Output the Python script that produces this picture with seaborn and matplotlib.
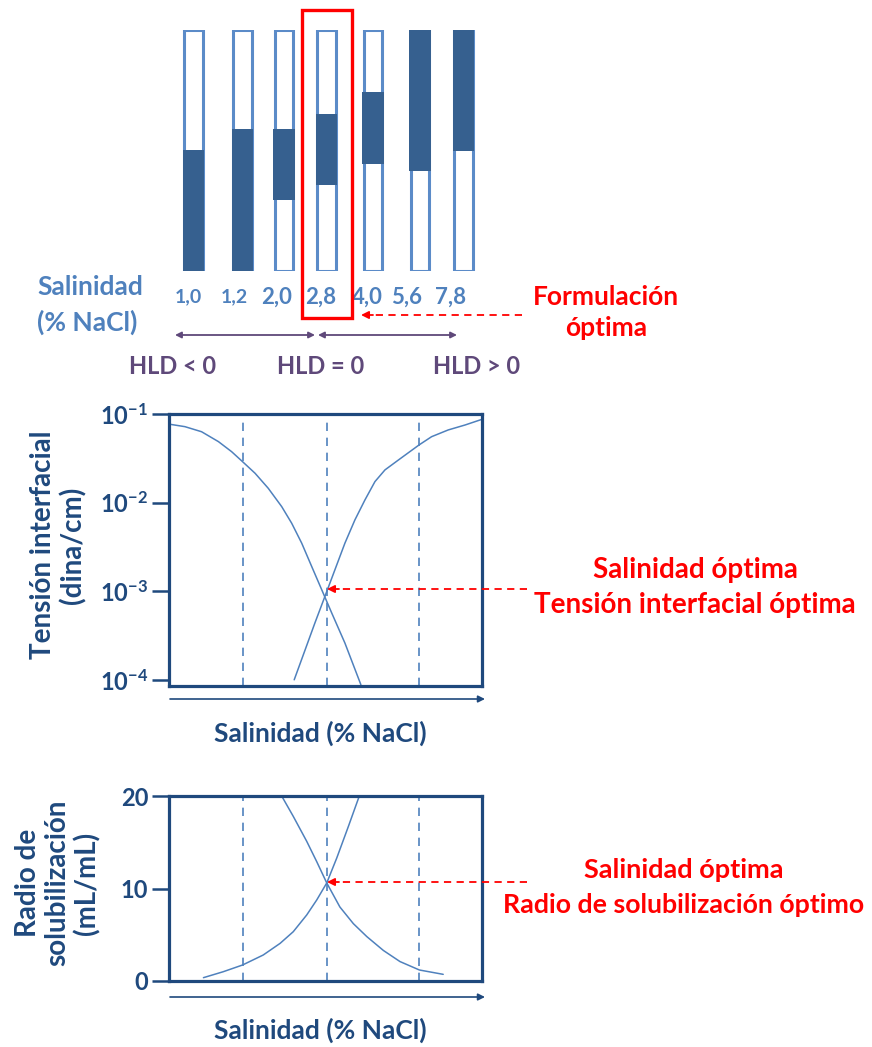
import numpy as np
import matplotlib
matplotlib.use("Agg")
import matplotlib.pyplot as plt
import seaborn as sns
from matplotlib.patches import Rectangle
from matplotlib.ticker import FixedLocator, FixedFormatter, NullLocator

sns.set_theme(style="white")
plt.rcParams["font.family"] = ["Lato", "DejaVu Sans"]
plt.rcParams["mathtext.fontset"] = "custom"
plt.rcParams["mathtext.rm"] = "Lato"
plt.rcParams["mathtext.bf"] = "Lato:bold"

# ---------------- data ----------------
tube_labels = ["1,0", "1,2", "2,0", "2,8", "4,0", "5,6", "7,8"]
phase_bottom = [0.0, 0.0, 0.291, 0.354, 0.443, 0.411, 0.497]   # fraction of tube height
phase_top = [0.500, 0.586, 0.586, 0.648, 0.741, 1.0, 1.0]
optimal_index = 3
hld_labels = ["HLD < 0", "HLD = 0", "HLD > 0"]

# interfacial tension: log10(dina/cm) vs salinity position (0-100 along axis)
ift_dec_x = [0.3, 5.1, 10.4, 15.8, 20.0, 23.5, 27.5, 31.7, 36.0, 39.2, 42.4, 45.6, 48.8, 52.0, 56.2, 61.3]
ift_dec_log = [-1.116, -1.143, -1.200, -1.312, -1.425, -1.538, -1.669, -1.838, -2.045, -2.233,
               -2.458, -2.722, -2.984, -3.247, -3.585, -4.055]
ift_inc_x = [40.0, 43.5, 46.6, 49.8, 53.0, 56.2, 59.4, 62.6, 65.8, 69.0, 73.3, 79.9, 83.9, 89.2, 94.6, 100.0]
ift_inc_log = [-4.000, -3.661, -3.360, -3.060, -2.759, -2.458, -2.195, -1.970, -1.763, -1.631,
               -1.519, -1.349, -1.256, -1.180, -1.124, -1.060]
ift_ticks = [1e-4, 1e-3, 1e-2, 1e-1]
ift_ticklabels = [r"$\mathbf{10^{-4}}$", r"$\mathbf{10^{-3}}$", r"$\mathbf{10^{-2}}$", r"$\mathbf{10^{-1}}$"]

# solubilization ratio (mL/mL)
sr_dec_x = [36.0, 39.7, 44.0, 47.2, 50.4, 54.6, 58.9, 63.2, 68.5, 73.8, 80.0, 87.6]
sr_dec_y = [20.0, 17.8, 15.1, 12.9, 10.6, 8.0, 6.2, 4.8, 3.3, 2.1, 1.19, 0.72]
sr_inc_x = [11.0, 17.3, 23.5, 30.1, 35.5, 39.7, 44.0, 47.2, 50.4, 53.6, 57.3, 60.8]
sr_inc_y = [0.36, 1.0, 1.73, 2.81, 4.07, 5.33, 7.14, 8.76, 10.6, 13.3, 16.7, 20.0]
sr_ticks = [0, 10, 20]

ref_lines = [23.5, 50.4, 80.0]

# ---------------- style ----------------
W, H = 872, 1047
DARK = "#1F497D"
CURVE = "#4F81BD"
TUBE_EDGE = "#5B8BC8"
TUBE_FILL = "#36608F"
LIGHT_TXT = "#4F81BD"
PURPLE = "#5F497A"
RED = "#FF0000"


def rect(l, t, r, b):
    return [l / W, 1 - b / H, (r - l) / W, (b - t) / H]


fig = plt.figure(figsize=(W / 100, H / 100), dpi=100)

# overlay axes in pixel coordinates for annotation decorations
ov = fig.add_axes([0, 0, 1, 1], zorder=5)
ov.set_xlim(0, W)
ov.set_ylim(H, 0)
ov.axis("off")
ov.patch.set_alpha(0)

# ---------------- tubes ----------------
ax_t = fig.add_axes(rect(169, 29.5, 482, 270.5))
ax_t.set_xlim(0, 100)
ax_t.set_ylim(0, 1)
ax_t.axis("off")
tube_pos = [7.8, 23.5, 36.7, 50.3, 65.2, 80.2, 94.1]
label_pos = [6.1, 20.8, 34.5, 48.6, 63.3, 76.0, 89.8]
label_size = [14, 14, 16, 16, 16, 16, 16]
ax_t.bar(tube_pos, [1] * len(tube_pos), width=5.95, bottom=0, color="white",
         edgecolor=TUBE_EDGE, linewidth=2.2, zorder=1)
ax_t.bar(tube_pos, np.array(phase_top) - np.array(phase_bottom), width=6.9,
         bottom=phase_bottom, color=TUBE_FILL, linewidth=0, zorder=2)
for lx, lab, fs in zip(label_pos, tube_labels, label_size):
    ax_t.text(lx, -0.11, lab, ha="center", va="center", fontsize=fs,
              fontweight="bold", color=LIGHT_TXT, clip_on=False)

# highlight optimal tube
ov.add_patch(Rectangle((302, 10), 50, 308, fill=False, edgecolor=RED, linewidth=2.4))

ov.text(37, 287, "Salinidad", ha="left", va="center", fontsize=19, fontweight="bold", color=LIGHT_TXT)
ov.text(37, 322, "(% NaCl)", ha="left", va="center", fontsize=19, fontweight="bold", color=LIGHT_TXT)

# HLD arrows
arr = dict(arrowstyle="<|-|>", color=PURPLE, lw=1.3, mutation_scale=9, shrinkA=0, shrinkB=0)
ov.annotate("", xy=(175, 335), xytext=(315, 335), arrowprops=arr)
ov.annotate("", xy=(318, 335), xytext=(457, 335), arrowprops=arr)
for cx, lab in zip([173, 321, 477], hld_labels):
    ov.text(cx, 367, lab, ha="center", va="center", fontsize=17, fontweight="bold", color=PURPLE)


def red_arrow(x0, x1, y):
    ov.plot([x0, x1 + 10], [y, y], color=RED, lw=1.3, ls=(0, (4, 3)))
    ov.annotate("", xy=(x1, y), xytext=(x1 + 12, y),
                arrowprops=dict(arrowstyle="-|>", color=RED, lw=1.3, mutation_scale=11,
                                shrinkA=0, shrinkB=0))


red_arrow(522, 361, 315)
ov.text(606, 297, "Formulación", ha="center", va="center", fontsize=19, fontweight="bold", color=RED)
ov.text(606, 328, "óptima", ha="center", va="center", fontsize=19, fontweight="bold", color=RED)


def style_axes(ax):
    for s in ax.spines.values():
        s.set_color(DARK)
        s.set_linewidth(2.3)
    ax.set_xlim(0, 100)
    ax.set_xticks([])
    ax.tick_params(axis="y", direction="out", length=12, width=1.8, color=DARK,
                   pad=3, labelsize=17, labelcolor=DARK, left=True)
    for xv in ref_lines:
        ax.axvline(xv, color=CURVE, lw=1.2, ls=(0, (5, 4)), zorder=1)


# ---------------- interfacial tension ----------------
ax1 = fig.add_axes(rect(169, 414, 482, 686))
ax1.set_yscale("log")
ax1.set_ylim(10 ** -4.07, 10 ** -1)
ax1.yaxis.set_major_locator(FixedLocator(ift_ticks))
ax1.yaxis.set_major_formatter(FixedFormatter(ift_ticklabels))
ax1.yaxis.set_minor_locator(NullLocator())
style_axes(ax1)
sns.lineplot(x=ift_dec_x, y=10 ** np.array(ift_dec_log), ax=ax1, color=CURVE, lw=1.1,
             sort=False, estimator=None)
sns.lineplot(x=ift_inc_x, y=10 ** np.array(ift_inc_log), ax=ax1, color=CURVE, lw=1.1,
             sort=False, estimator=None)
ax1.set_xlabel("")
ax1.set_ylabel("")

ov.text(58, 545, "Tensión interfacial\n(dina/cm)", rotation=90, ha="center", va="center",
        fontsize=20, fontweight="bold", color=DARK, linespacing=1.15)
ov.annotate("", xy=(485, 699), xytext=(170, 699),
            arrowprops=dict(arrowstyle="-|>", color=DARK, lw=1.2, mutation_scale=10, shrinkA=0, shrinkB=0))
ov.text(320, 733, "Salinidad (% NaCl)", ha="center", va="center", fontsize=19, fontweight="bold", color=DARK)
red_arrow(527, 327, 589)
ov.text(695, 570, "Salinidad óptima", ha="center", va="center", fontsize=20, fontweight="bold", color=RED)
ov.text(695, 605, "Tensión interfacial óptima", ha="center", va="center", fontsize=20, fontweight="bold", color=RED)

# ---------------- solubilization ratio ----------------
ax2 = fig.add_axes(rect(169, 796, 482, 981))
ax2.set_ylim(0, 20)
ax2.yaxis.set_major_locator(FixedLocator(sr_ticks))
style_axes(ax2)
sns.lineplot(x=sr_dec_x, y=sr_dec_y, ax=ax2, color=CURVE, lw=1.1, sort=False, estimator=None)
sns.lineplot(x=sr_inc_x, y=sr_inc_y, ax=ax2, color=CURVE, lw=1.1, sort=False, estimator=None)
for t in ax2.get_yticklabels():
    t.set_fontweight("bold")
ax2.set_xlabel("")
ax2.set_ylabel("")

ov.text(58, 883, "Radio de\nsolubilización\n(mL/mL)", rotation=90, ha="center", va="center",
        fontsize=20, fontweight="bold", color=DARK, linespacing=1.15)
ov.annotate("", xy=(485, 997), xytext=(170, 997),
            arrowprops=dict(arrowstyle="-|>", color=DARK, lw=1.2, mutation_scale=10, shrinkA=0, shrinkB=0))
ov.text(320, 1030, "Salinidad (% NaCl)", ha="center", va="center", fontsize=19, fontweight="bold", color=DARK)
red_arrow(527, 327, 882)
ov.text(684, 870, "Salinidad óptima", ha="center", va="center", fontsize=19.5, fontweight="bold", color=RED)
ov.text(684, 905, "Radio de solubilización óptimo", ha="center", va="center", fontsize=19.3, fontweight="bold", color=RED)

fig.savefig("out.png", dpi=100)
